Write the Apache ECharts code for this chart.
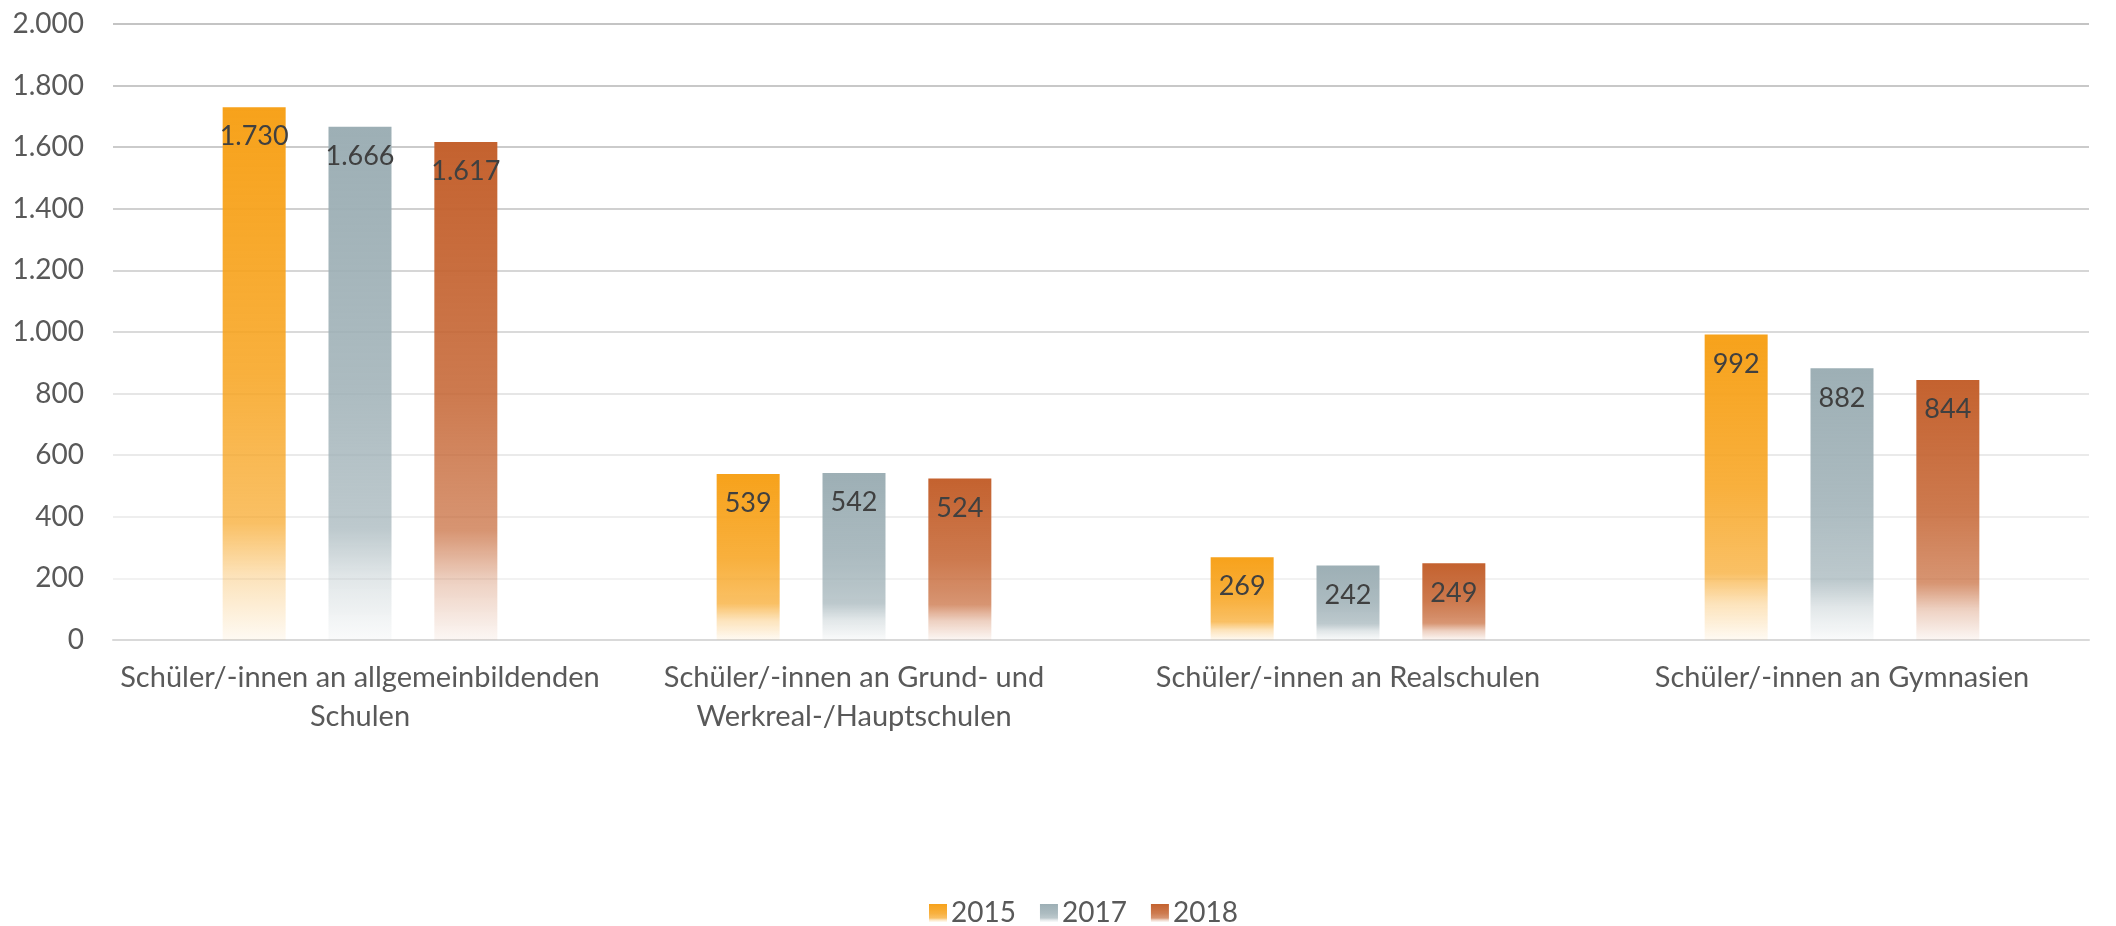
<!DOCTYPE html>
<html>
<head>
<meta charset="utf-8">
<script src="https://cdn.jsdelivr.net/npm/echarts@6/dist/echarts.min.js"></script>
<style>
    html, body { margin: 0; padding: 0; background: #fff; }
    #chart { width: 2116px; height: 926px; }
</style>
</head>
<body>
<div id="chart"></div>
<script>
// Kategorien (x-Achse)
const categories = [
    'Schüler/-innen an allgemeinbildenden\nSchulen',
    'Schüler/-innen an Grund- und\nWerkreal-/Hauptschulen',
    'Schüler/-innen an Realschulen',
    'Schüler/-innen an Gymnasien'
];
const years = ['2015', '2017', '2018'];
const values2015 = [1730, 539, 269, 992];
const values2017 = [1666, 542, 242, 882];
const values2018 = [1617, 524, 249, 844];
const yTicks = [0, 200, 400, 600, 800, 1000, 1200, 1400, 1600, 1800, 2000];

const baseColors = [[247, 162, 27], [157, 175, 181], [196, 98, 47]];
const fontFamily = 'Lato, "Open Sans", sans-serif';

function fade(rgb) {
    const c = a => 'rgba(' + rgb.join(',') + ',' + a + ')';
    return new echarts.graphic.LinearGradient(0, 0, 0, 1, [
        { offset: 0, color: c(1) },
        { offset: 0.5, color: c(0.85) },
        { offset: 0.78, color: c(0.68) },
        { offset: 0.88, color: c(0.3) },
        { offset: 1, color: c(0.05) }
    ]);
}

function fmt(v) {
    return String(v).replace(/\B(?=(\d{3})+(?!\d))/g, '.');
}

const seriesData = [values2015, values2017, values2018];

var myChart = echarts.init(document.getElementById('chart'));
var option = {
    animation: false,
    grid: { left: 113, right: 27, top: 24, bottom: 286 },
    legend: {
        data: years,
        top: 899,
        left: 929,
        padding: 0,
        itemWidth: 18,
        itemHeight: 18,
        itemGap: 24,
        icon: 'rect',
        textStyle: { fontFamily: fontFamily, fontSize: 28, color: '#595959', padding: [0, 0, 0, -1] }
    },
    xAxis: {
        type: 'category',
        data: categories,
        axisTick: { show: false },
        axisLine: { lineStyle: { color: '#D9D9D9', width: 2 } },
        axisLabel: {
            interval: 0,
            margin: 18,
            fontFamily: fontFamily,
            fontSize: 29,
            lineHeight: 39,
            color: '#595959'
        }
    },
    yAxis: {
        type: 'value',
        min: yTicks[0],
        max: yTicks[yTicks.length - 1],
        interval: 200,
        axisLine: { show: false },
        axisTick: { show: false },
        axisLabel: {
            fontFamily: fontFamily,
            fontSize: 28,
            color: '#595959',
            margin: 29,
            formatter: v => fmt(v)
        },
        splitLine: {
            lineStyle: {
                width: 2,
                color: ['#D9D9D9', '#F2F2F2', '#EEEEEE', '#EAEAEA', '#E6E6E6', '#DADADA',
                        '#D6D6D6', '#D0D0D0', '#CBCBCB', '#C8C8C8', '#C4C4C4']
            }
        }
    },
    series: years.map((y, i) => ({
        name: y,
        type: 'bar',
        data: seriesData[i],
        barWidth: 63,
        barGap: '68%',
        itemStyle: { color: fade(baseColors[i]) },
        label: {
            show: true,
            position: 'insideTop',
            distance: 16,
            fontFamily: fontFamily,
            fontSize: 27,
            color: '#404040',
            formatter: p => fmt(p.value)
        }
    }))
};
option && myChart.setOption(option);
window.addEventListener('resize', () => {
    myChart.resize()
})
</script>
</body>
</html>
